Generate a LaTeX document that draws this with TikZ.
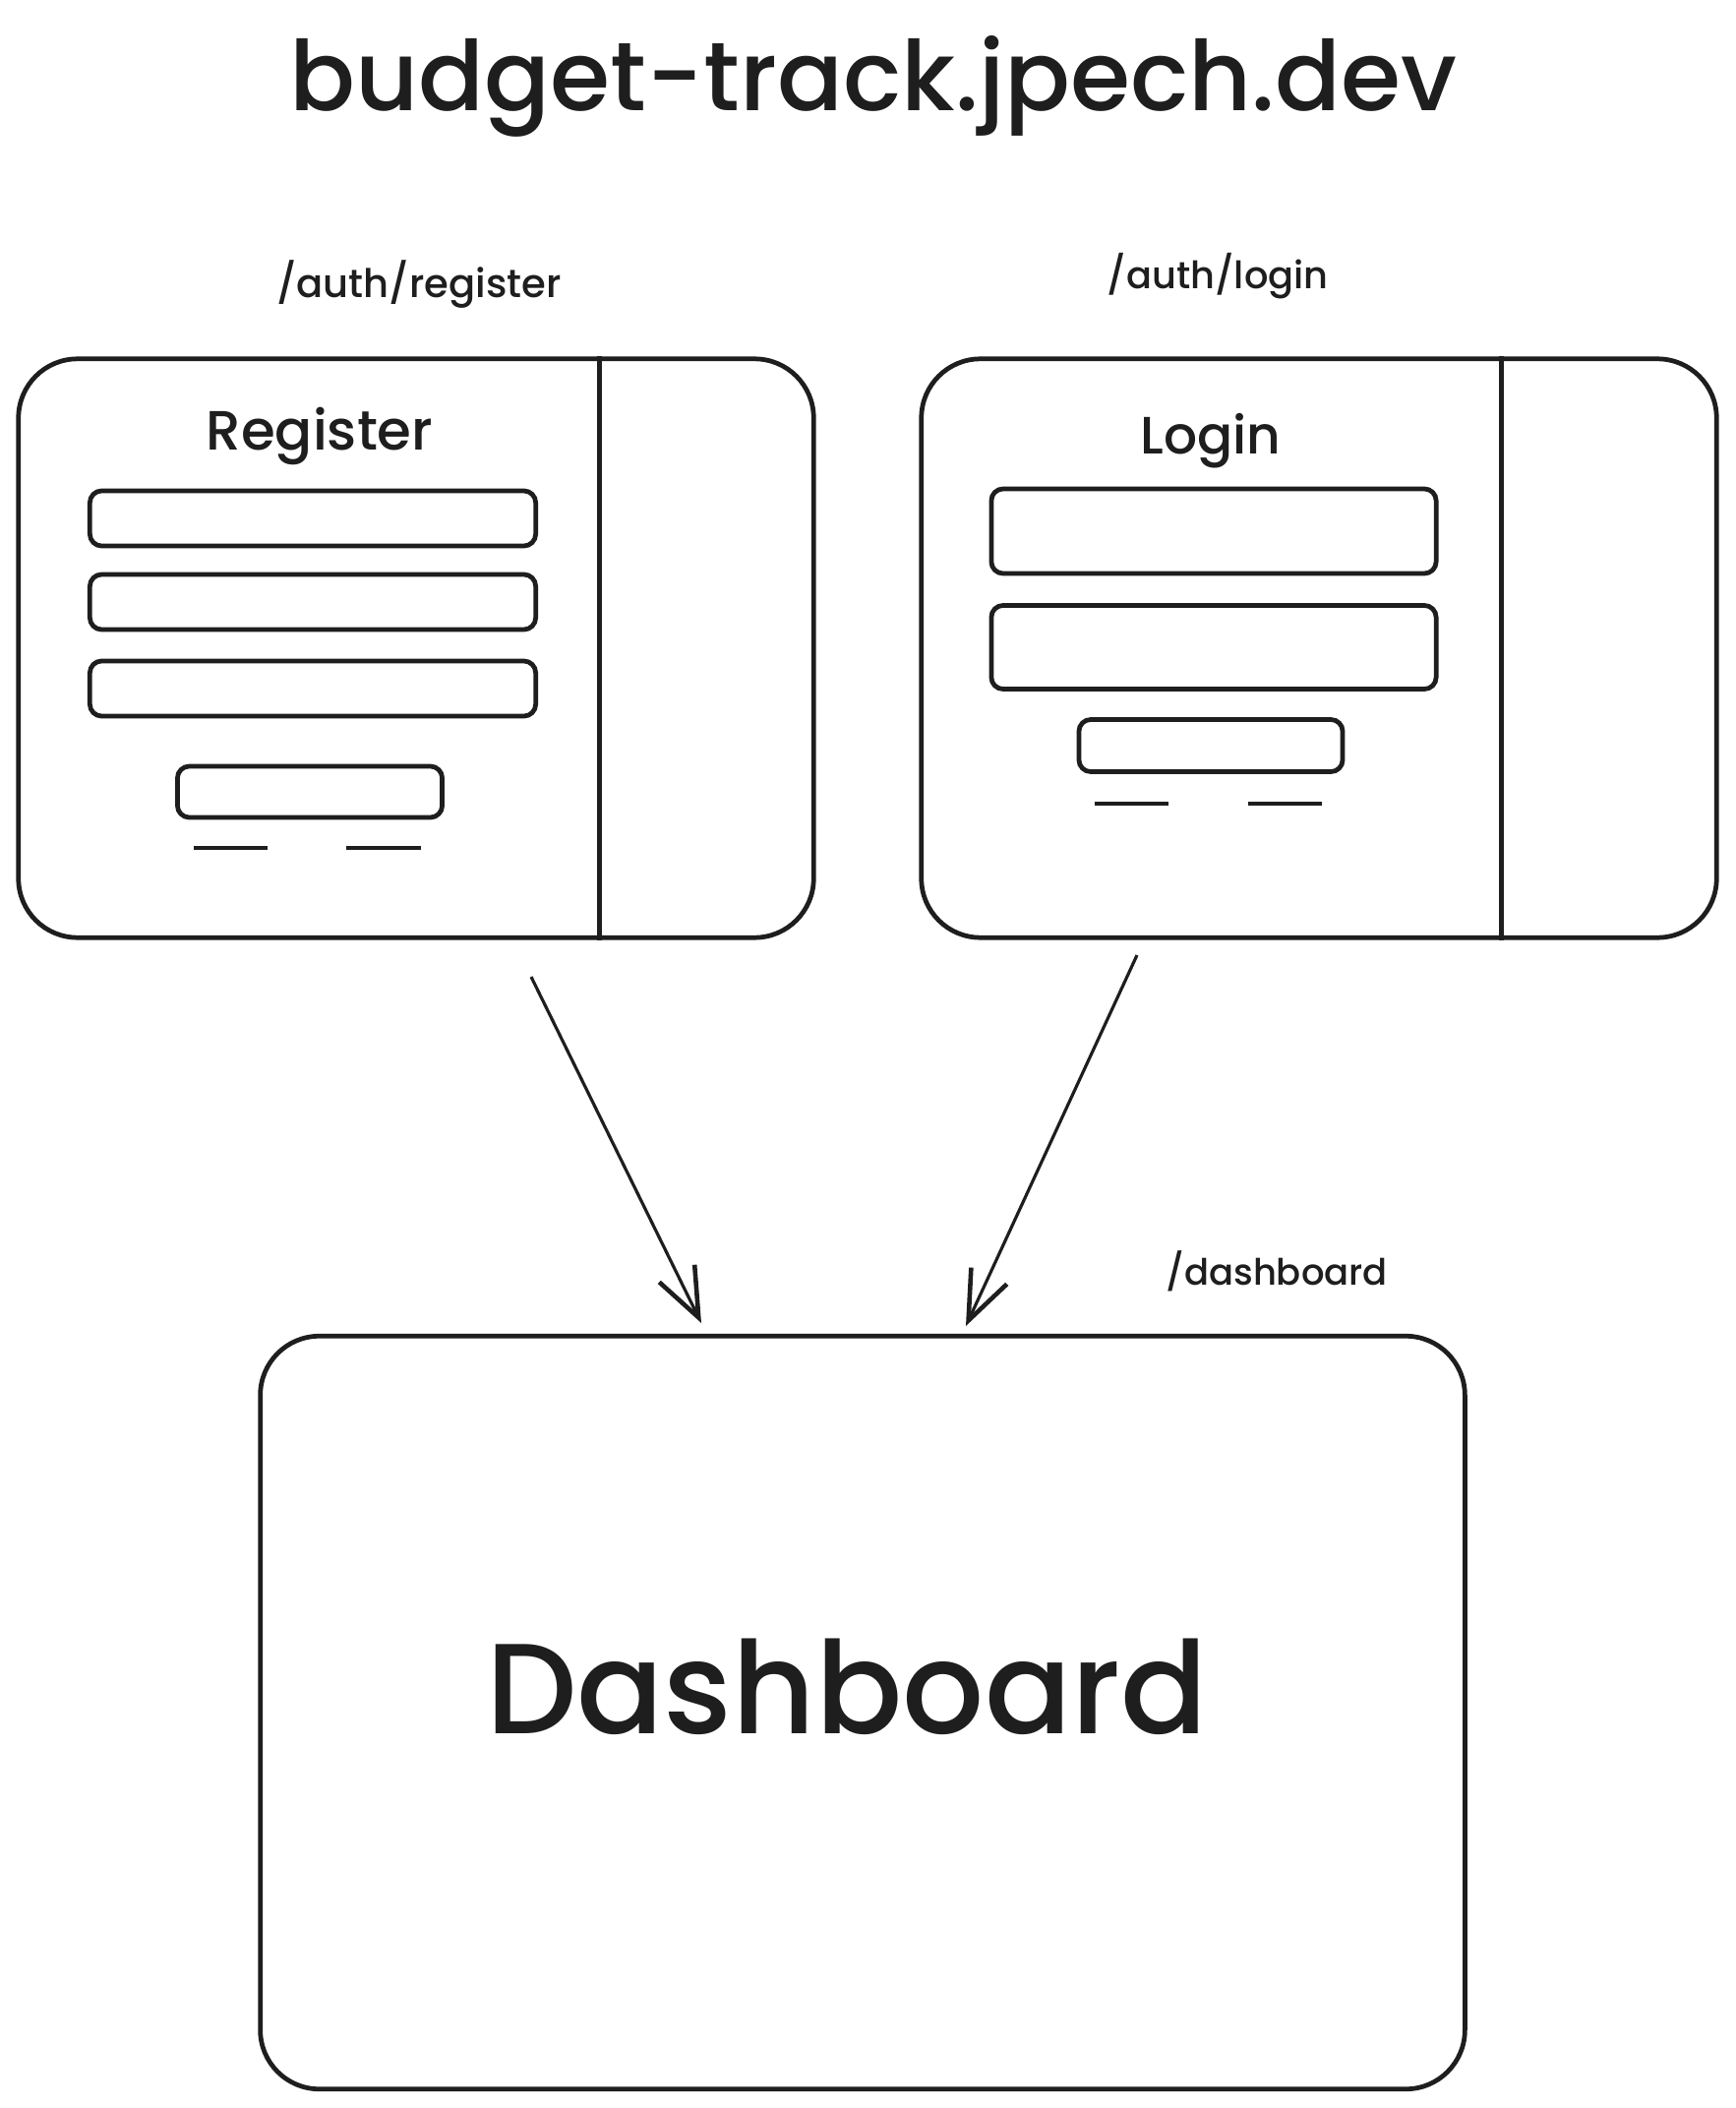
\documentclass[tikz,border=0pt]{standalone}
\usepackage{fontspec}
\setmainfont{Poppins}
\newfontfamily\heavy{Poppins Medium}
\usetikzlibrary{arrows.meta,calc}
\definecolor{ink}{HTML}{1E1E1E}
\begin{document}
\begin{tikzpicture}[x=0.01cm,y=-0.01cm,
  frame/.style={draw=ink,line width=1.35pt,rounded corners=0.6cm,inner sep=0pt,minimum width=8.08cm,minimum height=5.88cm},
  field/.style={draw=ink,line width=1.35pt,rounded corners=0.12cm,inner sep=0pt},
  divider/.style={draw=ink,line width=1.35pt},
  dashline/.style={draw=ink,line width=1.35pt},
  conn/.style={draw=ink,line width=0.9pt,-{Straight Barb[length=0.5cm,width=0.4cm,line width=1.3pt]}},
  lbl/.style={text=ink,anchor=base,inner sep=0pt,font=\heavy},
]
\useasboundingbox[fill=white] (0,0) rectangle (1764,2143);

% title
\node[lbl,font=\heavy\fontsize{28.1}{34}\selectfont] (title) at (888,113) {budget-track.jpech.dev};

% route labels
\node[lbl,font=\heavy\fontsize{11.4}{14}\selectfont] (lreg) at (426,303) {/auth/register};
\node[lbl,font=\heavy\fontsize{10.9}{14}\selectfont] (llog) at (1238,294) {/auth/login};
\node[lbl,font=\heavy\fontsize{10.5}{13}\selectfont] (ldash) at (1298,1306) {/dashboard};

% register screen
\node[frame] (reg) at (423,659) {};
\draw[divider] ($(reg.north west)+(593,0)$) -- ($(reg.south west)+(593,0)$);
\node[lbl,font=\heavy\fontsize{16}{19}\selectfont] (regt) at (325,458) {Register};
\node[field,minimum width=4.53cm,minimum height=0.56cm] (rf1) at (318,527) {};
\node[field,minimum width=4.53cm,minimum height=0.56cm] (rf2) at (318,612) {};
\node[field,minimum width=4.53cm,minimum height=0.56cm] (rf3) at (318,700) {};
\node[field,minimum width=2.69cm,minimum height=0.52cm] (rbtn) at (315,805) {};
\draw[dashline] (197,862) -- (272,862);
\draw[dashline] (352,862) -- (428,862);

% login screen
\node[frame] (log) at (1341,659) {};
\draw[divider] ($(log.north west)+(592,0)$) -- ($(log.south west)+(592,0)$);
\node[lbl,font=\heavy\fontsize{15.2}{18}\selectfont] (logt) at (1231,462) {Login};
\node[field,minimum width=4.52cm,minimum height=0.86cm] (lf1) at (1234,540) {};
\node[field,minimum width=4.52cm,minimum height=0.85cm] (lf2) at (1234,658) {};
\node[field,minimum width=2.68cm,minimum height=0.53cm] (lbtn) at (1231,758) {};
\draw[dashline] (1113,817) -- (1188,817);
\draw[dashline] (1269,817) -- (1344,817);

% dashboard
\node[frame,minimum width=12.24cm,minimum height=7.65cm] (dash) at (877,1741) {};
\node[lbl,font=\heavy\fontsize{37.1}{44}\selectfont] (dasht) at (861,1762) {Dashboard};

% connectors
\coordinate (a1s) at (540,993);
\coordinate (a1e) at (713,1345);
\coordinate (a2s) at (1156,971);
\coordinate (a2e) at (982,1348);
\draw[conn] (a1s) -- (a1e);
\draw[conn] (a2s) -- (a2e);
\end{tikzpicture}
\end{document}
